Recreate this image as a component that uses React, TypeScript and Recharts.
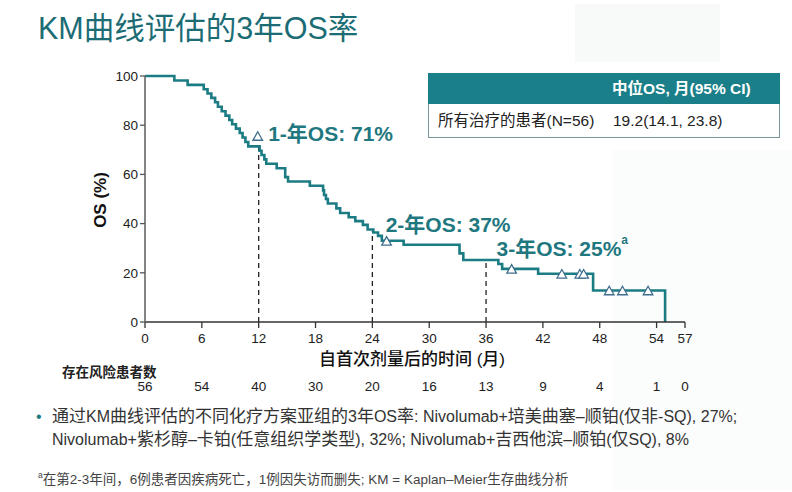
import React from 'react';
import {
  ComposedChart,
  Line,
  Scatter,
  XAxis,
  YAxis,
  ReferenceLine,
  ReferenceDot,
} from 'recharts';

// ---- data ----
const kmMonths = [
  0, 3.1, 4.5, 6.2, 6.6, 7.0, 7.4, 7.7, 8.1, 8.5, 8.9, 9.2, 9.6, 10.0, 10.3, 10.6, 10.9,
  12.1, 12.3, 12.6, 12.8, 13.9, 14.8, 15.1, 17.4, 18.8, 18.9, 19.1, 19.3, 20.2, 20.6,
  21.5, 22.2, 23.0, 23.5, 24.1, 24.6, 25.0, 27.3, 33.2, 33.6, 37.3, 37.7, 41.5, 47.3, 54.9,
];
const kmSurvival = [
  100, 98.2, 96.4, 94.6, 92.9, 91.1, 89.3, 87.5, 85.7, 83.9, 82.1, 80.4, 78.6, 76.8, 75.0, 73.2, 71.4,
  69.6, 67.9, 66.1, 64.3, 62.5, 58.9, 57.1, 55.4, 53.5, 51.6, 50.0, 48.2, 46.2, 44.3,
  42.6, 41.0, 39.5, 37.6, 36.4, 35.0, 33.0, 31.4, 27.9, 25.2, 23.6, 21.6, 19.6, 12.8, 0,
];
const censorMonths = [11.9, 25.5, 38.7, 44.0, 45.9, 46.3, 49.0, 50.4, 53.1];
const censorSurvival = [75.6, 33.0, 21.6, 19.6, 19.6, 19.6, 12.8, 12.8, 12.8];

const xTicks = [0, 6, 12, 18, 24, 30, 36, 42, 48, 54, 57];
const atRisk = [56, 54, 40, 30, 20, 16, 13, 9, 4, 1, 0];
const yTicks = [0, 20, 40, 60, 80, 100];

const milestoneMonths = [12, 24, 36];
const milestoneSurvival = [71.4, 37.0, 25.2];
const milestoneLabels = ['1-年OS: 71%', '2-年OS: 37%', '3-年OS: 25%'];
const milestoneLabelMonths = [13.0, 25.4, 37.1];
const milestoneLabelSurvival = [76.5, 39.6, 29.8];

const bulletLines = [
  '通过KM曲线评估的不同化疗方案亚组的3年OS率: Nivolumab+培美曲塞–顺铂(仅非-SQ), 27%;',
  'Nivolumab+紫杉醇–卡铂(任意组织学类型), 32%; Nivolumab+吉西他滨–顺铂(仅SQ), 8%',
];

const kmData = kmMonths.map((t, i) => ({ t, s: kmSurvival[i] }));
const censorData = censorMonths.map((t, i) => ({ t, s: censorSurvival[i] }));

// ---- styles ----
const FONT = "'Liberation Sans', Arial, 'Noto Sans CJK SC', sans-serif";
const TEAL = '#1c7c84';
const TEAL_TEXT = '#1f7880';

const CJK_RE = /[\u3000-\u9fff\uff00-\uffef]+|[^\u3000-\u9fff\uff00-\uffef]+/g;
const isCJK = (s: string) => /[\u3000-\u9fff\uff00-\uffef]/.test(s);

const MixedText = ({ text, cjkSize, latinSize }: { text: string; cjkSize: number; latinSize: number }) => {
  const runs = text.match(CJK_RE) || [];
  return (
    <>
      {runs.map((r, i) => (
        <span key={i} style={{ fontSize: isCJK(r) ? cjkSize : latinSize }}>
          {r}
        </span>
      ))}
    </>
  );
};

const Triangle = (props: any) => {
  const { cx, cy } = props;
  if (cx == null || cy == null) return null;
  const w = 4.8;
  const h = 8.5;
  return (
    <polygon
      points={`${cx - w},${cy + h / 2} ${cx + w},${cy + h / 2} ${cx},${cy - h / 2}`}
      fill="#ffffff"
      stroke="#3f6e8c"
      strokeWidth={1.3}
    />
  );
};

const XTick = (props: any) => {
  const { x, y, payload } = props;
  const i = xTicks.indexOf(payload.value);
  return (
    <g>
      <text x={x} y={y + 13} textAnchor="middle" fontSize={13.5} fill="#222" fontFamily={FONT}>
        {payload.value}
      </text>
      <text x={x} y={y + 61} textAnchor="middle" fontSize={13.5} fill="#222" fontFamily={FONT}>
        {i >= 0 ? atRisk[i] : ''}
      </text>
    </g>
  );
};

const makeLabel = (idx: number) => (p: any) => {
  const { cx, cy } = p;
  return (
    <text
      x={cx}
      y={cy}
      dominantBaseline="central"
      fontSize={21}
      fontWeight="bold"
      fill={TEAL_TEXT}
      fontFamily={FONT}
    >
      {milestoneLabels[idx]}
      {idx === 2 ? (
        <tspan dy={-9} fontSize={12}>
          a
        </tspan>
      ) : null}
    </text>
  );
};

export default function App() {
  return (
    <div
      style={{
        position: 'fixed',
        left: 0,
        top: 0,
        width: 792,
        height: 492,
        background: '#ffffff',
        overflow: 'hidden',
        fontFamily: FONT,
      }}
    >
      {/* faint watermark */}
      <div style={{ position: 'absolute', left: 575, top: 4, width: 145, height: 58, background: '#f8f9f9' }} />
      <div style={{ position: 'absolute', left: 612, top: 150, width: 180, height: 340, background: '#fbfcfc' }} />

      {/* title */}
      <div
        style={{
          position: 'absolute',
          left: 38,
          top: 10,
          fontSize: 30.5,
          color: '#1c6c75',
          whiteSpace: 'nowrap',
          lineHeight: '36px',
        }}
      >
        KM曲线评估的3年OS率
      </div>

      <div style={{ position: 'absolute', left: 0, top: 0 }}>
        <ComposedChart
          width={792}
          height={492}
          margin={{ top: 76, right: 107, bottom: 140, left: 100 }}
        >
          <XAxis
            type="number"
            dataKey="t"
            domain={[0, 57]}
            ticks={xTicks}
            interval={0}
            allowDataOverflow
            height={30}
            tick={<XTick />}
            tickSize={6}
            axisLine={{ stroke: '#333', strokeWidth: 1.3 }}
            tickLine={{ stroke: '#333', strokeWidth: 1.3 }}
          />
          <YAxis
            type="number"
            dataKey="s"
            domain={[0, 100]}
            ticks={yTicks}
            interval={0}
            width={45}
            tickSize={5}
            tick={{ fontSize: 13.5, fill: '#222', fontFamily: FONT }}
            axisLine={{ stroke: '#777', strokeWidth: 1.8 }}
            tickLine={{ stroke: '#555', strokeWidth: 1.3 }}
          />
          {milestoneMonths.map((m, i) => (
            <ReferenceLine
              key={'ml' + i}
              segment={[
                { x: m, y: 0 },
                { x: m, y: milestoneSurvival[i] },
              ]}
              stroke="#222"
              strokeWidth={1.3}
              strokeDasharray="5 4"
            />
          ))}
          <Line
            data={kmData}
            dataKey="s"
            type="stepAfter"
            stroke={TEAL}
            strokeWidth={2.6}
            dot={false}
            activeDot={false}
            isAnimationActive={false}
          />
          <Scatter data={censorData} dataKey="s" shape={<Triangle />} isAnimationActive={false} />
          {milestoneLabelMonths.map((m, i) => (
            <ReferenceDot
              key={'lb' + i}
              x={m}
              y={milestoneLabelSurvival[i]}
              r={0}
              shape={makeLabel(i)}
            />
          ))}
        </ComposedChart>
      </div>

      {/* y axis title */}
      <div
        style={{
          position: 'absolute',
          left: 101,
          top: 200,
          transform: 'translate(-50%, -50%) rotate(-90deg)',
          fontSize: 17,
          fontWeight: 'bold',
          color: '#111',
          whiteSpace: 'nowrap',
        }}
      >
        OS (%)
      </div>

      {/* x axis title */}
      <div
        style={{
          position: 'absolute',
          left: 412,
          top: 357,
          transform: 'translate(-50%, -50%)',
          fontSize: 17,
          fontWeight: 500,
          color: '#111',
          whiteSpace: 'nowrap',
        }}
      >
        自首次剂量后的时间 (月)
      </div>

      {/* at risk header */}
      <div
        style={{
          position: 'absolute',
          left: 62,
          top: 361,
          fontSize: 13.5,
          fontWeight: 'bold',
          color: '#222',
          whiteSpace: 'nowrap',
        }}
      >
        存在风险患者数
      </div>

      {/* table */}
      <div style={{ position: 'absolute', left: 428, top: 73, width: 352 }}>
        <div
          style={{
            height: 31,
            background: '#1a7f89',
            color: '#fff',
            fontWeight: 'bold',
            fontSize: 15.5,
            lineHeight: '31px',
            paddingLeft: 184,
            whiteSpace: 'nowrap',
          }}
        >
          中位OS, 月(95% CI)
        </div>
        <div
          style={{
            height: 33,
            border: '1px solid #7b979c',
            borderTop: 'none',
            background: '#fff',
            fontSize: 15.5,
            lineHeight: '33px',
            color: '#222',
            position: 'relative',
            whiteSpace: 'nowrap',
          }}
        >
          <span style={{ position: 'absolute', left: 9 }}>所有治疗的患者(N=56)</span>
          <span style={{ position: 'absolute', left: 184 }}>19.2(14.1, 23.8)</span>
        </div>
      </div>

      {/* bullet text */}
      <div style={{ position: 'absolute', left: 36, top: 405, fontSize: 16, color: TEAL, lineHeight: '23px' }}>•</div>
      <div
        style={{
          position: 'absolute',
          left: 52,
          top: 405,
          width: 740,
          color: '#333',
          lineHeight: '23px',
          whiteSpace: 'nowrap',
        }}
      >
        {bulletLines.map((l, i) => (
          <div key={i}>
            <MixedText text={l} cjkSize={17} latinSize={16} />
          </div>
        ))}
      </div>

      {/* footnote */}
      <div
        style={{
          position: 'absolute',
          left: 38,
          top: 467,
          fontSize: 13.5,
          color: '#444',
          whiteSpace: 'nowrap',
          lineHeight: '17px',
        }}
      >
        <sup style={{ fontSize: 8.5 }}>a</sup>在第2-3年间，6例患者因疾病死亡，1例因失访而删失; KM = Kaplan–Meier生存曲线分析
      </div>
    </div>
  );
}
